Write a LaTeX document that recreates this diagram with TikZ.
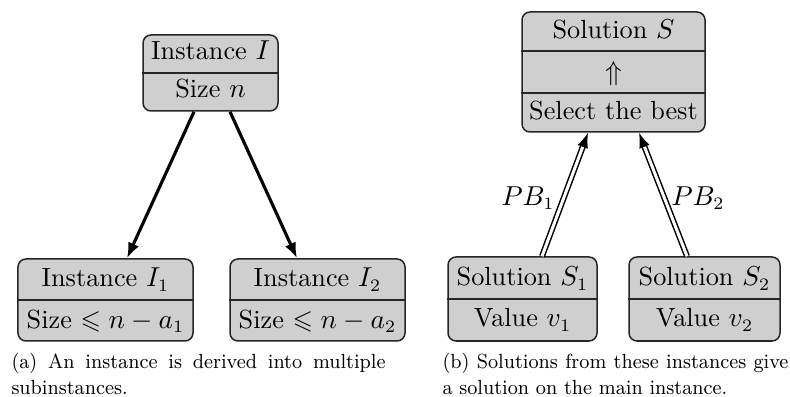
\documentclass[tikz,border=0pt]{standalone}
\usepackage{amssymb}
\usetikzlibrary{arrows.meta,calc}

\tikzset{
  partbox/.style={draw=black!85, line width=0.6pt, fill=black!19, rounded corners=3.2pt, inner sep=0pt},
  divider/.style={draw=black!85, line width=0.6pt},
  lbl/.style={anchor=base, inner sep=0pt, font=\fontsize{10.5}{12.6}\selectfont},
  captext/.style={anchor=base west, inner sep=0pt, font=\fontsize{8.2}{10}\selectfont},
  derive/.style={line width=1.25pt, -{Latex[length=6.2pt,width=4.8pt]}},
  combine/.style={double, double distance=1.2pt, line width=0.6pt, -{Latex[length=6pt,width=4.4pt]}},
}
% caption lines, slightly condensed
\newcommand\capline[2]{\scalebox{0.93}[1]{\makebox[#1][s]{#2}}}
\newcommand\capnarrow[1]{\scalebox{0.93}[1]{#1}}

\begin{document}
\begin{tikzpicture}[x=0.4pt, y=-0.4pt]
\useasboundingbox (0,0) rectangle (790,397);

% ---- (a) instance and its subinstances ----
\node[partbox, minimum width=54pt, minimum height=30.4pt] (I) at (210.5,73) {};
\draw[divider] (I.west) -- (I.east);
\node[lbl] (It) at (210.5,60) {Instance $I$};
\node[lbl] (Ib) at (210.5,98) {Size $n$};

\node[partbox, minimum width=70pt, minimum height=32.8pt] (I1) at (105.5,300) {};
\draw[divider] (I1.west) -- (I1.east);
\node[lbl] (I1t) at (105.5,287) {Instance $I_1$};
\node[lbl] (I1b) at (105.5,328) {Size $\leqslant n - a_1$};

\node[partbox, minimum width=70pt, minimum height=32.8pt] (I2) at (317.5,300) {};
\draw[divider] (I2.west) -- (I2.east);
\node[lbl] (I2t) at (317.5,287) {Instance $I_2$};
\node[lbl] (I2b) at (317.5,328) {Size $\leqslant n - a_2$};

\draw[derive] ($(I.south)+(-16.5,0)$) -- ($(I1.north)+(21.5,0)$);
\draw[derive] ($(I.south)+(19.5,0)$) -- ($(I2.north)+(-20.5,0)$);

% ---- (b) solutions combined into the main solution ----
\node[partbox, minimum width=73.2pt, minimum height=48pt] (S) at (613.5,72) {};
\draw[divider] ($(S.west)+(0,-21)$) -- ($(S.east)+(0,-21)$);
\draw[divider] ($(S.west)+(0,21)$) -- ($(S.east)+(0,21)$);
\node[lbl] (St) at (613.5,39) {Solution $S$};
\node[lbl] (Sm) at (613.5,81) {$\Uparrow$};
\node[lbl] (Sb) at (613.5,120) {Select the best};

\node[partbox, minimum width=59.6pt, minimum height=33.6pt] (S1) at (522.5,299) {};
\draw[divider] (S1.west) -- (S1.east);
\node[lbl] (S1t) at (522.5,286) {Solution $S_1$};
\node[lbl] (S1b) at (522.5,327) {Value $v_1$};

\node[partbox, minimum width=60.4pt, minimum height=33.6pt] (S2) at (704.5,299) {};
\draw[divider] (S2.west) -- (S2.east);
\node[lbl] (S2t) at (704.5,286) {Solution $S_2$};
\node[lbl] (S2b) at (704.5,327) {Value $v_2$};

\draw[combine] ($(S1.north)+(19.5,0)$) -- ($(S.south)+(-25.5,0)$);
\draw[combine] ($(S2.north)+(-17.5,0)$) -- ($(S.south)+(25.5,0)$);
\node[font=\fontsize{10.5}{12.6}\selectfont] (pb1) at (528,198) {$PB_1$};
\node[font=\fontsize{10.5}{12.6}\selectfont] (pb2) at (698,198) {$PB_2$};

% ---- captions ----
\node[captext] (ca1) at (11,369) {\capline{160.9pt}{(a) An instance is derived into multiple}};
\node[captext] (ca2) at (11,394) {\capnarrow{subinstances.}};
\node[captext] (cb1) at (442,369) {\capline{148.8pt}{(b) Solutions from these instances give}};
\node[captext] (cb2) at (442,394) {\capnarrow{a solution on the main instance.}};
\end{tikzpicture}
\end{document}
